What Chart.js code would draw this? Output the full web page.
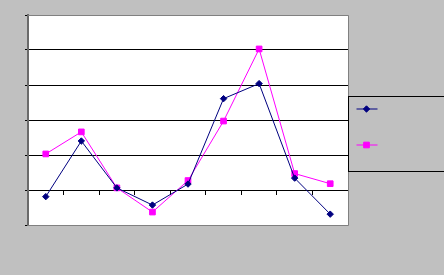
<!DOCTYPE html>
<html>
<head>
<meta charset="utf-8">
<script src="https://cdn.jsdelivr.net/npm/chart.js@4/dist/chart.umd.min.js"></script>
<style>
  html, body { margin: 0; padding: 0; background: #c0c0c0; overflow: hidden; }
  #wrap { width: 444px; height: 275px; position: relative; }
</style>
</head>
<body>
<div id="wrap"><canvas id="chart"></canvas></div>
<script>
const categories = ["1", "2", "3", "4", "5", "6", "7", "8", "9"];
const seriesNames = ["Series1", "Series2"];
const series1 = [-0.19, 1.4, 0.06, -0.43, 0.17, 2.61, 3.04, 0.34, -0.69];
const series2 = [1.03, 1.66, 0.06, -0.63, 0.27, 1.97, 4.03, 0.47, 0.18];
const yMin = -1;
const yMax = 5;

// white plot area + gray frame
const plotFrame = {
  id: "plotFrame",
  beforeDraw(chart) {
    const { ctx, chartArea: a } = chart;
    ctx.save();
    ctx.fillStyle = "#ffffff";
    ctx.fillRect(a.left, a.top, a.right - a.left, a.bottom - a.top);
    ctx.restore();
  },
  beforeDatasetsDraw(chart) {
    const { ctx, chartArea: a } = chart;
    ctx.save();
    ctx.strokeStyle = "#808080";
    ctx.lineWidth = 1;
    ctx.beginPath();
    ctx.moveTo(a.left, Math.round(a.top) + 0.5);
    ctx.lineTo(Math.round(a.right) + 0.5, Math.round(a.top) + 0.5);
    ctx.lineTo(Math.round(a.right) + 0.5, Math.round(a.bottom) + 0.5);
    ctx.lineTo(a.left, Math.round(a.bottom) + 0.5);
    ctx.stroke();
    ctx.restore();
  }
};

// excel-like legend box at the right
const boxLegend = {
  id: "boxLegend",
  afterDraw(chart) {
    const { ctx, chartArea: a } = chart;
    const x0 = Math.round(a.right) + 0.5;
    ctx.save();
    ctx.fillStyle = "#c0c0c0";
    ctx.strokeStyle = "#000000";
    ctx.lineWidth = 1;
    ctx.fillRect(x0, 96.5, 120, 75);
    ctx.strokeRect(x0, 96.5, 120, 75);
    chart.data.datasets.forEach((ds, i) => {
      const y = 109 + i * 36;
      ctx.strokeStyle = ds.borderColor;
      ctx.lineWidth = 1;
      ctx.beginPath();
      ctx.moveTo(x0 + 8, y);
      ctx.lineTo(x0 + 29, y);
      ctx.stroke();
      ctx.fillStyle = ds.pointBackgroundColor;
      Chart.helpers.drawPoint(ctx, {
        pointStyle: ds.pointStyle,
        radius: ds.pointRadius,
        rotation: 0,
        borderWidth: 1
      }, x0 + 18, y);
    });
    ctx.restore();
  }
};

new Chart(document.getElementById("chart"), {
  type: "line",
  data: {
    labels: categories,
    datasets: [
      {
        label: seriesNames[0],
        data: series1,
        borderColor: "#000080",
        backgroundColor: "#000080",
        pointBackgroundColor: "#000080",
        pointBorderColor: "#000080",
        borderWidth: 1,
        pointStyle: "rectRot",
        pointRadius: 3.2,
        pointBorderWidth: 1,
        tension: 0
      },
      {
        label: seriesNames[1],
        data: series2,
        borderColor: "#ff00ff",
        backgroundColor: "#ff00ff",
        pointBackgroundColor: "#ff00ff",
        pointBorderColor: "#ff00ff",
        borderWidth: 1,
        pointStyle: "rect",
        pointRadius: 4,
        pointBorderWidth: 1,
        tension: 0
      }
    ]
  },
  options: {
    responsive: true,
    maintainAspectRatio: false,
    animation: false,
    layout: { padding: { left: 25, top: 15, right: 96, bottom: 50 } },
    plugins: {
      legend: { display: false },
      tooltip: { enabled: false }
    },
    scales: {
      x: {
        type: "category",
        position: { y: 0 },
        offset: true,
        grid: {
          offset: true,
          drawOnChartArea: false,
          drawTicks: true,
          tickLength: 4,
          tickColor: "#000000"
        },
        border: { display: true, color: "#000000", width: 1 },
        ticks: { display: false }
      },
      y: {
        min: yMin,
        max: yMax,
        ticks: { display: false, stepSize: 1 },
        grid: {
          color: (c) => (c.tick && (c.tick.value === yMin || c.tick.value === yMax)) ? "#808080" : "#000000",
          tickColor: "#000000",
          tickLength: 3,
          lineWidth: 1
        },
        border: { display: true, color: "#6a6a6a", width: 2 }
      }
    }
  },
  plugins: [plotFrame, boxLegend]
});
</script>
</body>
</html>
